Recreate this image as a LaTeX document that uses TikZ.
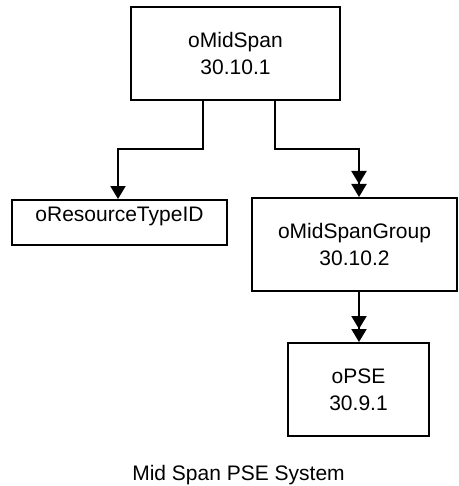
\documentclass[tikz,border=0pt]{standalone}
\usepackage{fontspec}
\setmainfont{Liberation Sans}
\usetikzlibrary{arrows.meta}
\begin{document}
\begin{tikzpicture}[x=1pt,y=-1pt,
  box/.style={draw, line width=2pt, inner sep=0pt, align=center,
    font=\fontsize{21}{27}\selectfont},
  lbl/.style={inner sep=0pt, font=\fontsize{21}{27}\selectfont},
  link/.style={line width=2pt},
  tip/.style={-{Triangle[length=13pt,width=15pt]}},
  dtip/.style={-{Triangle[length=13pt,width=15pt,sep=0pt]Triangle[length=13pt,width=15pt]}}]
\useasboundingbox (0,0) rectangle (458,486);

% object boxes
\node[box, minimum width=209pt, minimum height=93pt] (top) at (235.5,53.5) {oMidSpan\\30.10.1};
\node[box, minimum width=215pt, minimum height=45pt] (rt) at (119.5,222.5) {};
\node[lbl] (rtt) at (119.5,216) {oResourceTypeID};
\node[box, minimum width=205pt, minimum height=93pt] (grp) at (354.5,244.5) {oMidSpanGroup\\30.10.2};
\node[box, minimum width=141pt, minimum height=93pt] (pse) at (358.5,389.5) {oPSE\\30.9.1};

% bend points of the connectors
\coordinate (sl) at (203,149);
\coordinate (el) at (118,149);
\coordinate (sr) at (275,149);
\coordinate (er) at (359,149);

\draw[link,tip] (top.south -| sl) -- (sl) -- (el) -- (rt.north -| el);
\draw[link,dtip] (top.south -| sr) -- (sr) -- (er) -- (grp.north -| er);
\draw[link,dtip] (grp.south -| er) -- (pse.north -| er);

% caption
\node[lbl] (cap) at (238.5,475) {Mid Span PSE System};
\end{tikzpicture}
\end{document}
